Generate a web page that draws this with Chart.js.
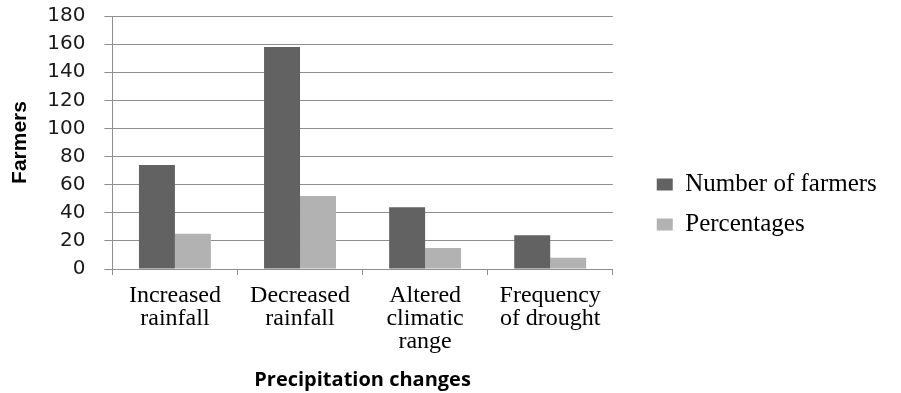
<!DOCTYPE html>
<html>
<head>
<meta charset="utf-8">
<script src="https://cdn.jsdelivr.net/npm/chart.js@4/dist/chart.umd.min.js"></script>
<style>
  html, body { margin: 0; padding: 0; background: #ffffff; }
  #wrap { width: 901px; height: 393px; position: relative; }
</style>
</head>
<body>
<div id="wrap"><canvas id="chart"></canvas></div>
<script>
// Perceived precipitation changes reported by farmers
const categories = [
  ['Increased', 'rainfall'],
  ['Decreased', 'rainfall'],
  ['Altered', 'climatic', 'range'],
  ['Frequency', 'of drought']
];
const numberOfFarmers = [74, 158, 44, 24];
const percentages = [25, 52, 15, 8];
const yTicks = [0, 20, 40, 60, 80, 100, 120, 140, 160, 180];

const gridColor = '#8e8e8e';

// Places the legend a little to the right of the plot area and lets it
// use the remaining width up to the canvas edge
const legendGap = {
  id: 'legendGap',
  afterLayout(chart) {
    const lg = chart.legend;
    if (lg) {
      lg.left = chart.chartArea.right + 29;
      lg.right = chart.width;
      lg.width = lg.right - lg.left;
    }
  }
};

new Chart(document.getElementById('chart'), {
  type: 'bar',
  data: {
    labels: categories,
    datasets: [
      {
        label: 'Number of farmers',
        data: numberOfFarmers,
        backgroundColor: '#626262',
        borderWidth: 0
      },
      {
        label: 'Percentages',
        data: percentages,
        backgroundColor: '#b2b2b2',
        borderWidth: 0
      }
    ]
  },
  options: {
    responsive: true,
    maintainAspectRatio: false,
    animation: false,
    devicePixelRatio: 1,
    layout: { padding: { top: 16, right: 84, bottom: 0, left: 0 } },
    datasets: {
      bar: { categoryPercentage: 0.575, barPercentage: 1.0 }
    },
    plugins: {
      tooltip: { enabled: false },
      legend: {
        position: 'right',
        align: 'center',
        labels: {
          boxWidth: 16,
          boxHeight: 12,
          padding: 15,
          color: '#000000',
          font: { family: '"Liberation Serif", "Times New Roman", serif', size: 25 }
        }
      }
    },
    scales: {
      x: {
        offset: true,
        grid: {
          offset: true,
          drawOnChartArea: false,
          drawTicks: true,
          tickLength: 6,
          color: gridColor
        },
        border: { color: gridColor, width: 1 },
        ticks: {
          padding: 9,
          color: '#000000',
          maxRotation: 0,
          autoSkip: false,
          font: { family: '"Liberation Serif", "Times New Roman", serif', size: 24, lineHeight: '23px' }
        },
        title: {
          display: true,
          text: 'Precipitation changes',
          color: '#000000',
          padding: { top: 6, bottom: 1 },
          font: { family: '"Open Sans", sans-serif', size: 20, weight: 'bold' }
        }
      },
      y: {
        min: 0,
        max: 180,
        afterBuildTicks(scale) {
          scale.ticks = yTicks.map(v => ({ value: v }));
        },
        afterFit(scale) {
          // only half a label of room above the top tick
          scale.paddingTop = 12;
          scale.paddingBottom = 12;
        },
        grid: {
          color: gridColor,
          drawTicks: true,
          tickLength: 8
        },
        border: { color: gridColor, width: 1 },
        ticks: {
          padding: 19,
          autoSkip: false,
          color: '#1a1a1a',
          font: { family: '"DejaVu Sans", sans-serif', size: 20 }
        },
        title: {
          display: true,
          text: 'Farmers',
          color: '#000000',
          padding: { top: 8, bottom: -5 },
          font: { family: '"Liberation Sans", Arial, sans-serif', size: 21, weight: 'bold' }
        }
      }
    }
  },
  plugins: [legendGap]
});
</script>
</body>
</html>
